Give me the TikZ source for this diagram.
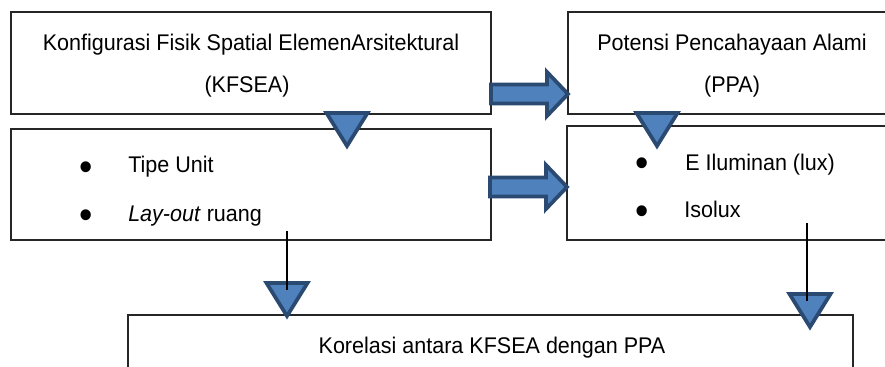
\documentclass[tikz,border=0pt]{standalone}
\usepackage{fontspec}
\setmainfont{Liberation Sans}[FakeStretch=0.95]
\definecolor{arrfill}{HTML}{4F81BD}
\definecolor{arrline}{HTML}{2B4A72}
\begin{document}
\begin{tikzpicture}[x=0.75pt,y=-0.75pt,
  box/.style={draw=black!85, line width=0.9pt, inner sep=0pt},
  txt/.style={inner sep=0pt, anchor=base, font=\fontsize{17}{20}\selectfont},
  txtw/.style={inner sep=0pt, anchor=base west, font=\fontsize{17}{20}\selectfont},
  blt/.style={inner sep=0pt, anchor=base, font=\fontsize{30}{32}\selectfont},
  conn/.style={draw=black, line width=1.1pt},
  shp/.style={draw=arrline, fill=arrfill, line width=2.8pt, line join=miter},
  downtri/.pic={\draw[shp] (-20.5,0) -- (20.5,0) -- (0,33) -- cycle;
                \coordinate (-top) at (0,0); \coordinate (-in) at (0,7);},
  rblock/.pic={\draw[shp] (-77,-9.5) -- (-21,-9.5) -- (-21,-22) -- (0,0) -- (-21,22) -- (-21,9.5) -- (-77,9.5) -- cycle;
                \coordinate (-tip) at (0,0);}
]
\useasboundingbox (0,0) rectangle (885,367);
\clip (0,0) rectangle (885,367);
% boxes
\node[box, minimum width=360pt, minimum height=76.5pt] (kfsea) at (251,63) {};
\node[box, minimum width=249pt, minimum height=76.5pt] (ppa) at (734,63) {};
\node[box, minimum width=360pt, minimum height=83.25pt] (lista) at (251,184.5) {};
\node[box, minimum width=249.75pt, minimum height=85.5pt] (listb) at (733.5,183) {};
\node[box, minimum width=543.75pt, minimum height=63.75pt] (korel) at (490.5,357.5) {};
% texts
\node[txt] (k1) at (251,50.5) {Konfigurasi Fisik Spatial ElemenArsitektural};
\node[txt] (k2) at (247,93) {(KFSEA)};
\node[txt] (p1) at (732,50.5) {Potensi Pencahayaan Alami};
\node[txt] (p2) at (732,93) {(PPA)};
\node[blt] (b1) at (86,180.5) {•};
\node[txtw] (a1) at (128,173) {Tipe Unit};
\node[blt] (b2) at (86,228.5) {•};
\node[txtw] (a2) at (128,221.5) {\textit{Lay-out} ruang};
\node[blt] (b3) at (642,177) {•};
\node[txtw] (c1) at (685,171) {E Iluminan (lux)};
\node[blt] (b4) at (642,224.5) {•};
\node[txtw] (c2) at (684,218) {Isolux};
\node[txt] (kt) at (492,353.5) {Korelasi antara KFSEA dengan PPA};
% block arrows
\pic (ar1) at (568,94) {rblock};
\pic (ar2) at (567,187) {rblock};
% triangles
\pic (t1) at (347,113) {downtri};
\pic (t2) at (657,113) {downtri};
\pic (t3) at (287,283) {downtri};
\pic (t4) at (810,294) {downtri};
% connectors
\coordinate (s1) at (287,231);
\coordinate (s2) at (807,223);
\draw[conn] (s1) -- (s1 |- t3-in);
\draw[conn] (s2) -- (s2 |- t4-in);
\end{tikzpicture}
\end{document}
